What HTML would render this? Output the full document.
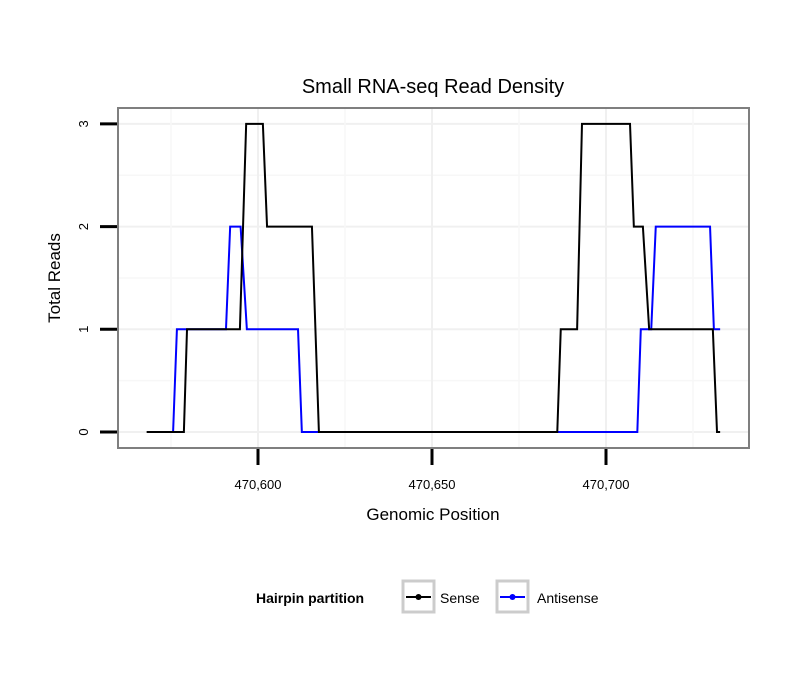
<!DOCTYPE html>
<html><head><meta charset="utf-8"><style>body{margin:0;background:#fff}svg{display:block;font-family:"Liberation Sans",sans-serif}</style></head>
<body>
<svg id="chart" width="810" height="690">
<rect width="810" height="690" fill="#fff"/>
<g id="grid"></g>
<g id="series"></g>
<rect x="118" y="108" width="631" height="340" fill="none" stroke="#7f7f7f" stroke-width="2"/>
<g id="axes"></g>
<text x="433" y="93" text-anchor="middle" font-size="20">Small RNA-seq Read Density</text>
<text x="433" y="520" text-anchor="middle" font-size="17">Genomic Position</text>
<text transform="translate(60,278) rotate(-90)" text-anchor="middle" font-size="17">Total Reads</text>
<g>
<text x="256" y="603" font-size="14" font-weight="bold">Hairpin partition</text>
<g>
<rect x="403" y="581" width="31" height="31" fill="#fff" stroke="#cccccc" stroke-width="3"/>
<line x1="406" y1="597" x2="431" y2="597" stroke="#000" stroke-width="2"/><circle cx="418.5" cy="597" r="3" fill="#000"/>
<text x="440" y="603" font-size="14">Sense</text></g>
<g>
<rect x="497" y="581" width="31" height="31" fill="#fff" stroke="#cccccc" stroke-width="3"/>
<line x1="500" y1="597" x2="525" y2="597" stroke="#0000ff" stroke-width="2"/><circle cx="512.5" cy="597" r="3" fill="#0000ff"/>
<text x="537" y="603" font-size="14">Antisense</text></g>
</g>
</svg>
<script>
const senseX = [470568, 470578.7, 470579.6, 470594.8, 470596.6, 470601.4, 470602.6, 470615.5, 470617.5, 470686, 470687, 470691.7, 470693.1, 470706.9, 470708, 470710.6, 470712.4, 470730.7, 470731.9, 470732.8];
const senseY = [0, 0, 1, 1, 3, 3, 2, 2, 0, 0, 1, 1, 3, 3, 2, 2, 1, 1, 0, 0];
const antiX = [470575, 470575.6, 470576.7, 470590.8, 470592, 470595, 470596.8, 470611.5, 470612.6, 470709, 470710, 470713, 470714.3, 470729.9, 470731, 470732.8];
const antiY = [0, 0, 1, 1, 2, 2, 1, 1, 0, 0, 1, 1, 2, 2, 1, 1];
const xTicks = [470600, 470650, 470700];
const xTickLabels = ["470,600", "470,650", "470,700"];
const yTicks = [0, 1, 2, 3];
const yTickLabels = ["0", "1", "2", "3"];
const NS = "http://www.w3.org/2000/svg";
const xs = v => 258 + (v - 470600) * 3.48;
const ys = v => 432 - v * 102.7;
function mk(tag, attrs, parent) { const e = document.createElementNS(NS, tag); for (const k in attrs) e.setAttribute(k, attrs[k]); parent.appendChild(e); return e; }
const grid = document.getElementById('grid'), axes = document.getElementById('axes'), series = document.getElementById('series');
// minor + major grid
for (let i = 0; i < yTicks.length; i++) {
  const g = mk('line', {x1:119, x2:748, y1:ys(yTicks[i]), y2:ys(yTicks[i]), stroke:'#f0f0f0', 'stroke-width':2}, grid);
  
  
  if (i < yTicks.length - 1) {
    const m = mk('line', {x1:119, x2:748, y1:ys(yTicks[i] + 0.5), y2:ys(yTicks[i] + 0.5), stroke:'#f7f7f7', 'stroke-width':1.5}, grid);
    
    
  }
}
for (let i = 0; i < xTicks.length; i++) {
  const g = mk('line', {x1:xs(xTicks[i]), x2:xs(xTicks[i]), y1:109, y2:447, stroke:'#f0f0f0', 'stroke-width':2}, grid);
  
  
  const m = mk('line', {x1:xs(xTicks[i] - 25), x2:xs(xTicks[i] - 25), y1:109, y2:447, stroke:'#f7f7f7', 'stroke-width':1.5}, grid);
  
  
}
const mm = mk('line', {x1:xs(470725), x2:xs(470725), y1:109, y2:447, stroke:'#f7f7f7', 'stroke-width':1.5}, grid);


function line(X, Y, color, name) {
  const p = mk('polyline', {points: X.map((x, i) => xs(x) + ',' + ys(Y[i])).join(' '), fill:'none', stroke:color, 'stroke-width':2}, series);
  
  
}
line(antiX, antiY, '#0000ff', 'antisense-line');
line(senseX, senseY, '#000000', 'sense-line');
for (let i = 0; i < xTicks.length; i++) {
  const t = mk('line', {x1:xs(xTicks[i]), x2:xs(xTicks[i]), y1:449, y2:465, stroke:'#000', 'stroke-width':3}, axes);
  
  
  const l = mk('text', {x:xs(xTicks[i]), y:489, 'text-anchor':'middle', 'font-size':13}, axes);
  l.textContent = xTickLabels[i];
  
  
}
for (let i = 0; i < yTicks.length; i++) {
  const t = mk('line', {x1:100, x2:117, y1:ys(yTicks[i]), y2:ys(yTicks[i]), stroke:'#000', 'stroke-width':3}, axes);
  
  
  const l = mk('text', {transform:'translate(88,' + ys(yTicks[i]) + ') rotate(-90)', 'text-anchor':'middle', 'font-size':13}, axes);
  l.textContent = yTickLabels[i];
  
  
}
</script>
</body></html>
